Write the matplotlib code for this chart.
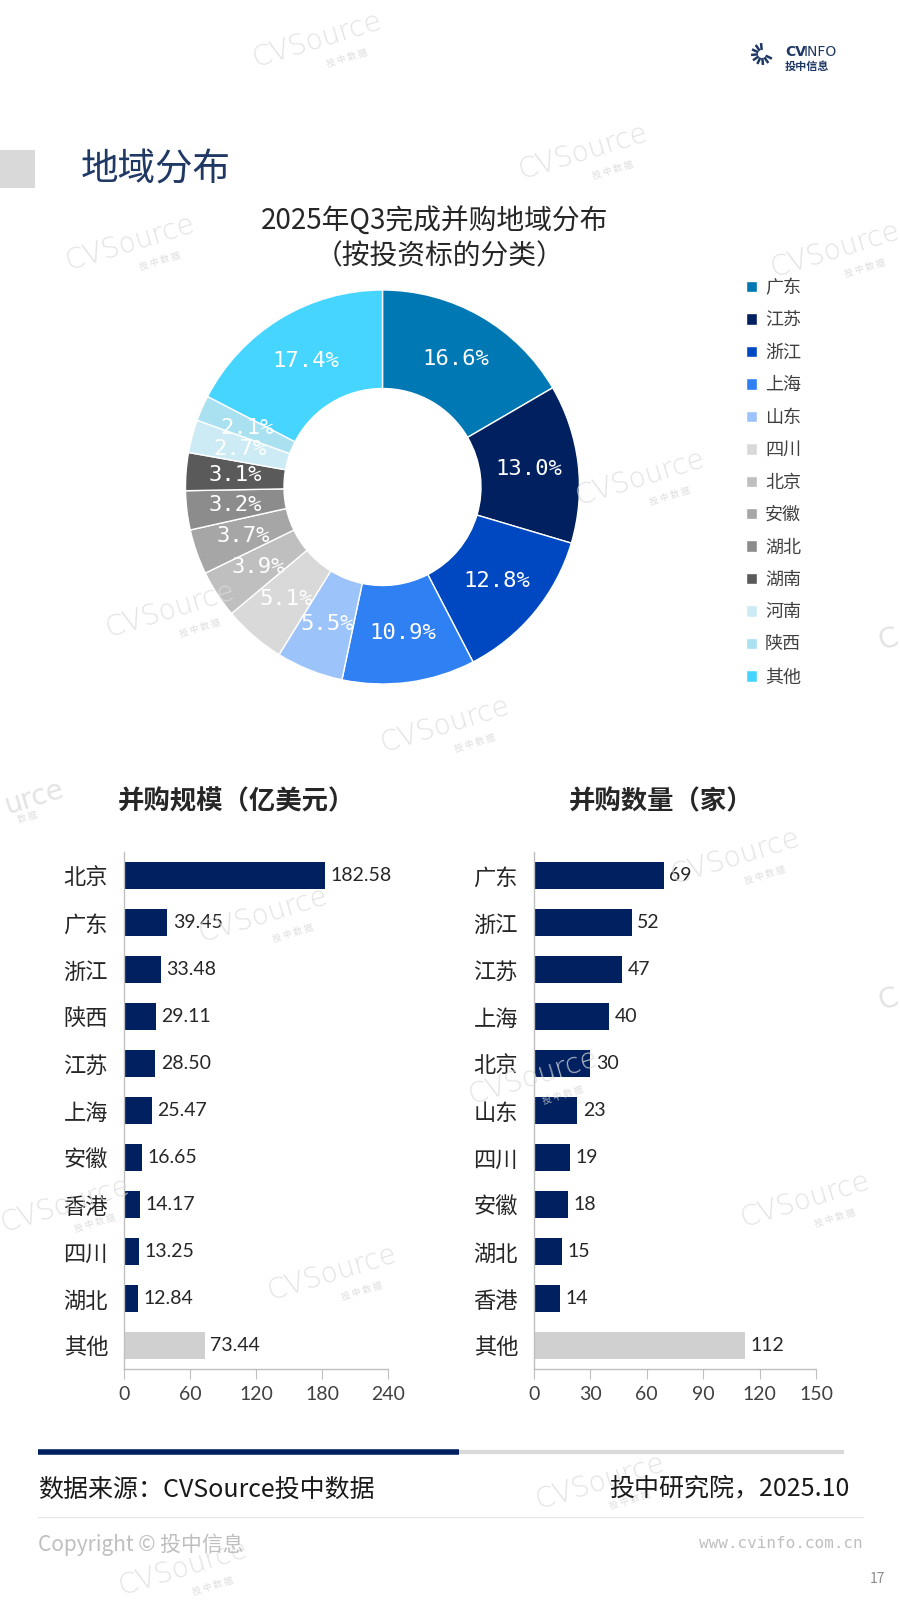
import matplotlib
matplotlib.use('Agg')
import matplotlib.pyplot as plt
import numpy as np

plt.rcParams['font.family'] = ['Noto Sans CJK SC', 'DejaVu Sans']

# donut: share of completed deals by region
pie_regions = ['广东', '江苏', '浙江', '上海', '山东', '四川', '北京', '安徽', '湖北', '湖南', '河南', '陕西', '其他']
pie_share = [16.6, 13.0, 12.8, 10.9, 5.5, 5.1, 3.9, 3.7, 3.2, 3.1, 2.7, 2.1, 17.4]
pie_colors = ['#0078B4', '#002060', '#0047C2', '#2F80F2', '#9CC3FA', '#D9D9D9', '#BFBFBF',
              '#A6A6A6', '#8C8C8C', '#5A5A5A', '#CDEBF5', '#A9E1F0', '#45D5FF']

# deal size, 亿美元
scale_regions = ['北京', '广东', '浙江', '陕西', '江苏', '上海', '安徽', '香港', '四川', '湖北', '其他']
scale_values = [182.58, 39.45, 33.48, 29.11, 28.50, 25.47, 16.65, 14.17, 13.25, 12.84, 73.44]
scale_ticks = [0, 60, 120, 180, 240]

# deal count, 家
count_regions = ['广东', '浙江', '江苏', '上海', '北京', '山东', '四川', '安徽', '湖北', '香港', '其他']
count_values = [69, 52, 47, 40, 30, 23, 19, 18, 15, 14, 112]
count_ticks = [0, 30, 60, 90, 120, 150]

NAVY = '#002060'
OTHER = '#D0D0D0'
W, H = 900, 1600


def box(left, top, right, bottom):
    # pixel box -> figure fraction rect
    return [left / W, 1 - bottom / H, (right - left) / W, (bottom - top) / H]


fig = plt.figure(figsize=(9, 16), dpi=100)
fig.patch.set_facecolor('white')

# ---- donut ----
ax_pie = fig.add_axes(box(185.5, 290, 579.5, 684))
wedges, _, autotexts = ax_pie.pie(
    pie_share, colors=pie_colors, startangle=90, counterclock=False, radius=1,
    wedgeprops=dict(width=0.5, edgecolor='white', linewidth=1),
    autopct=lambda p: f'{p:.1f}%', pctdistance=0.75,
    textprops=dict(color='white', fontsize=16, family='DejaVu Sans Mono'))
ax_pie.set_xlim(-1, 1)
ax_pie.set_ylim(-1, 1)
ax_pie.set_aspect('equal')

leg = ax_pie.legend(wedges, pie_regions, loc='upper left',
                    bbox_to_anchor=(746 / W, 1 - 279 / H), bbox_transform=fig.transFigure,
                    frameon=False, fontsize=13, handlelength=0.6, handleheight=0.6,
                    handletextpad=0.45, labelspacing=0.80, borderpad=0, borderaxespad=0)
for t in leg.get_texts():
    t.set_color('#404040')


# ---- bars ----
def draw_bars(ax, regions, values, ticks, fmt):
    y = np.arange(len(regions))
    colors = [NAVY] * (len(regions) - 1) + [OTHER]
    ax.barh(y, values, height=0.58, color=colors)
    ax.set_ylim(len(regions) - 0.5, -0.5)
    ax.set_xlim(ticks[0], ticks[-1])
    ax.set_xticks(ticks)
    ax.set_yticks(y)
    ax.set_yticklabels(regions)
    ax.set_facecolor('none')
    for s in ['top', 'right']:
        ax.spines[s].set_visible(False)
    for s in ['left', 'bottom']:
        ax.spines[s].set_color('#BFBFBF')
        ax.spines[s].set_linewidth(1)
    ax.tick_params(axis='x', direction='out', length=7, color='#BFBFBF',
                   labelsize=14, labelcolor='#404040', pad=5)
    ax.tick_params(axis='y', length=0, pad=11.5, labelsize=16, labelcolor='#262626')
    for t in ax.get_xticklabels():
        t.set_fontfamily('Lato')
    for yi, v in zip(y, values):
        ax.annotate(fmt(v), (v, yi), xytext=(4, 0), textcoords='offset points',
                    va='center', ha='left', fontsize=14, color='#262626', family='Lato')


ax_l = fig.add_axes(box(124, 852, 388, 1369))
draw_bars(ax_l, scale_regions, scale_values, scale_ticks, lambda v: f'{v:.2f}')
ax_r = fig.add_axes(box(534, 852, 816, 1369))
draw_bars(ax_r, count_regions, count_values, count_ticks, lambda v: f'{v}')

# ---- page decoration (pixel coords) ----
page = fig.add_axes([0, 0, 1, 1], zorder=10)
page.set_xlim(0, W)
page.set_ylim(H, 0)
page.set_axis_off()
page.patch.set_alpha(0)

# watermarks
wm_pos = [(317, 40), (583, 152), (130, 243), (835, 250), (640, 478), (170, 610), (445, 725),
          (735, 857), (263, 915), (533, 1077), (65, 1205), (805, 1200),
          (332, 1273), (600, 1482), (183, 1568)]
for x, y in wm_pos:
    page.text(x, y, 'CVSource', rotation=17, fontsize=20, color='#DCDCDC', alpha=0.8,
              ha='center', va='center', family='DejaVu Sans', fontweight='light')
    page.text(x + 30, y + 18, '投 中 数 据', rotation=17, fontsize=6.5, color='#D5D5D5',
              alpha=0.8, ha='center', va='center')
# fragments of watermarks at the page edges
page.text(34, 797, 'urce', rotation=17, fontsize=20, color='#DCDCDC', alpha=0.8,
          ha='center', va='center', family='DejaVu Sans')
page.text(28, 818, '数 据', rotation=17, fontsize=6.5, color='#D5D5D5', alpha=0.8,
          ha='center', va='center')
for y in (640, 1000):
    page.text(888, y, 'C', rotation=17, fontsize=20, color='#DCDCDC', alpha=0.8,
              ha='center', va='center', family='DejaVu Sans')

# logo
cx, cy = 762, 54
for a in np.linspace(95, 335, 9):
    r = np.radians(a)
    page.plot([cx + 4 * np.cos(r), cx + 11 * np.cos(r)], [cy - 4 * np.sin(r), cy - 11 * np.sin(r)],
              color='#1F3864', lw=1.8, solid_capstyle='butt')
page.text(785, 52, 'CV', fontsize=10, fontweight='bold', color='#1F3864', va='center',
          family='DejaVu Sans')
page.text(804, 52, 'INFO', fontsize=10, color='#1F3864', va='center', family='DejaVu Sans')
page.text(785, 66, '投中信息', fontsize=8, fontweight='bold', color='#1F3864', va='center')

# section title
page.add_patch(plt.Rectangle((0, 150), 35, 38, color='#D9D9D9', lw=0))
page.text(81, 170, '地域分布', fontsize=27, color='#1F3864', va='center', ha='left')

# donut title
page.text(435, 222, '2025年Q3完成并购地域分布', fontsize=20, color='#262626', ha='center', va='center')
page.text(440, 256, '（按投资标的分类）', fontsize=20, color='#262626', ha='center', va='center')

# bar titles
page.text(236, 802, '并购规模（亿美元）', fontsize=19, fontweight='bold', color='#262626',
          ha='center', va='center')
page.text(661, 802, '并购数量（家）', fontsize=19, fontweight='bold', color='#262626',
          ha='center', va='center')

# footer
page.plot([38, 459], [1452, 1452], color=NAVY, lw=4, solid_capstyle='butt')
page.plot([459, 844], [1452, 1452], color='#D9D9D9', lw=3, solid_capstyle='butt')
page.text(38, 1490, '数据来源：CVSource投中数据', fontsize=18, color='#1A1A1A', va='center', ha='left')
page.text(850, 1488, '投中研究院，2025.10', fontsize=18, color='#1A1A1A', va='center', ha='right')
page.plot([38, 863], [1517, 1517], color='#E6E6E6', lw=0.8)
page.text(38, 1545, 'Copyright © 投中信息', fontsize=15, color='#BFBFBF', va='center', ha='left')
page.text(863, 1543, 'www.cvinfo.com.cn', fontsize=11.5, color='#BFBFBF', va='center', ha='right',
          family='DejaVu Sans Mono')
page.text(877, 1579, '17', fontsize=10, color='#8C8C8C', va='center', ha='center')

fig.savefig('out.png', dpi=100, facecolor='white')
